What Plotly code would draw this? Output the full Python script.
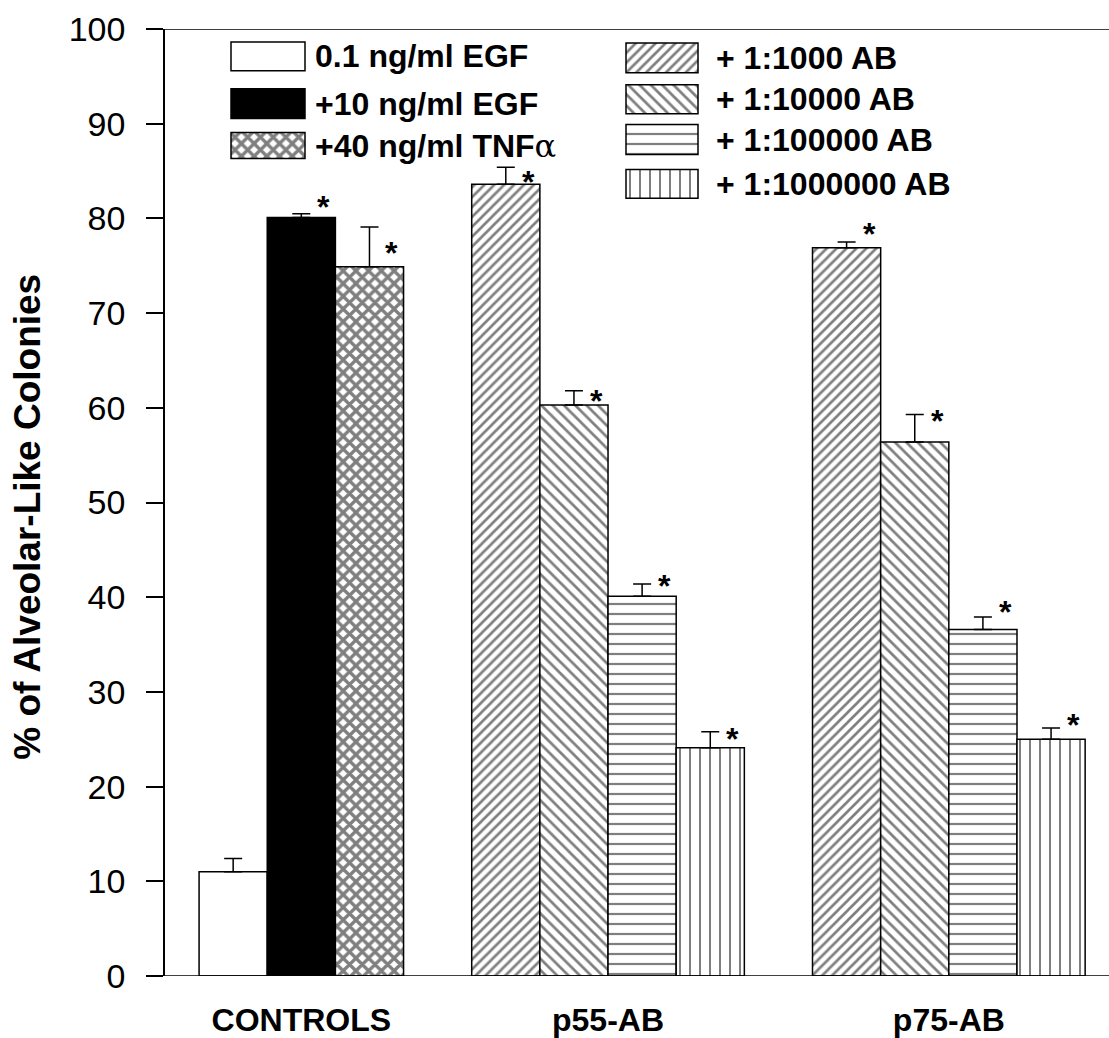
import plotly.graph_objects as go

# ---------------- data ----------------
groups = ["CONTROLS", "p55-AB", "p75-AB"]

control_names = ["0.1 ng/ml EGF", "+10 ng/ml EGF", "+40 ng/ml TNFα"]
control_values = [11.0, 80.1, 74.9]
control_errors = [1.4, 0.4, 4.2]
control_star_y = [None, 82.1, 77.2]

ab_names = ["+ 1:1000 AB", "+ 1:10000 AB", "+ 1:100000 AB", "+ 1:1000000 AB"]
p55_values = [83.6, 60.3, 40.1, 24.1]
p55_errors = [1.8, 1.5, 1.3, 1.7]
p55_star_y = [84.7, 61.6, 42.0, 25.9]
p75_values = [76.9, 56.4, 36.6, 25.0]
p75_errors = [0.6, 2.9, 1.3, 1.2]
p75_star_y = [79.2, 59.4, 39.3, 27.3]

y_ticks = [0, 10, 20, 30, 40, 50, 60, 70, 80, 90, 100]

# ---------------- styles ----------------
FONT = "Liberation Sans, Arial, Helvetica, sans-serif"
control_styles = [
    dict(color="white", pattern=dict(shape="")),
    dict(color="black", pattern=dict(shape="")),
    dict(color="white", pattern=dict(shape="x", fgcolor="black", bgcolor="white", size=9, solidity=0.6)),
]
ab_styles = [
    dict(color="white", pattern=dict(shape="/", fgcolor="black", bgcolor="white", size=7, solidity=0.38)),
    dict(color="white", pattern=dict(shape="\\", fgcolor="black", bgcolor="white", size=8, solidity=0.34)),
    dict(color="white", pattern=dict(shape="-", fgcolor="black", bgcolor="white", size=10, solidity=0.22)),
    dict(color="white", pattern=dict(shape="|", fgcolor="black", bgcolor="white", size=10, solidity=0.2)),
]

# bar slot positions: consecutive bars within a group, one empty slot between groups
group_sizes = [len(control_values), len(p55_values), len(p75_values)]
group_starts = []
s = 0
for n in group_sizes:
    group_starts.append(s)
    s += n + 1
group_centers = [st + (n - 1) / 2 for st, n in zip(group_starts, group_sizes)]

fig = go.Figure()

def add_bar(xpos, vals, errs, style, name):
    fig.add_trace(go.Bar(
        x=xpos, y=vals, width=[1.0] * len(xpos), name=name, showlegend=False,
        marker=dict(color=style["color"], pattern=style["pattern"],
                    line=dict(color="black", width=1.5)),
        error_y=dict(type="data", symmetric=False, array=errs,
                     arrayminus=[0] * len(errs), color="black", thickness=1.5, width=9),
    ))

star_x, star_y = [], []
for j, (nm, v, e, st, sy) in enumerate(zip(control_names, control_values, control_errors,
                                            control_styles, control_star_y)):
    xp = group_starts[0] + j
    add_bar([xp], [v], [e], st, nm)
    if sy is not None:
        star_x.append(xp + 0.33)
        star_y.append(sy)

for j, (nm, st) in enumerate(zip(ab_names, ab_styles)):
    xs = [group_starts[1] + j, group_starts[2] + j]
    add_bar(xs, [p55_values[j], p75_values[j]], [p55_errors[j], p75_errors[j]], st, nm)
    star_x += [xs[0] + 0.33, xs[1] + 0.33]
    star_y += [p55_star_y[j], p75_star_y[j]]

for sx, sy in zip(star_x, star_y):
    fig.add_annotation(x=sx, y=sy, xref="x", yref="y", text="*", showarrow=False,
                       xanchor="center", yanchor="middle", yshift=-8,
                       font=dict(family=FONT, size=32, color="black", weight="bold"))

# ---------------- custom legend (pixel coordinates on overlay axes) ----------------
legend_cols = [
    dict(x0=231, x1=305, tx=313, rows=[(42, 71), (89, 119), (133, 159)],
         names=control_names, styles=control_styles),
    dict(x0=626, x1=698, tx=714, rows=[(43, 73), (85, 114), (125, 155), (170, 199)],
         names=ab_names, styles=ab_styles),
]
for col in legend_cols:
    for (t, b), nm, st in zip(col["rows"], col["names"], col["styles"]):
        fig.add_trace(go.Bar(
            x=[(col["x0"] + col["x1"]) / 2], y=[b - t], base=[t], width=[col["x1"] - col["x0"]],
            xaxis="x2", yaxis="y2", showlegend=False, hoverinfo="skip",
            marker=dict(color=st["color"], pattern=st["pattern"],
                        line=dict(color="black", width=1.5)),
        ))
        label = nm.replace("α", "<span style='font-family:DejaVu Serif;font-weight:normal'>α</span>")
        fig.add_annotation(
            x=col["tx"], y=(t + b) / 2, xref="x2", yref="y2", text=label, showarrow=False,
            xanchor="left", yanchor="middle",
            font=dict(family=FONT, size=32, color="black", weight="bold"),
        )

PLOT_L, PLOT_R, PLOT_T, PLOT_B = 165, 1109, 29, 980
W, H = 1109, 1038

fig.update_layout(
    width=W, height=H,
    margin=dict(l=PLOT_L, r=W - PLOT_R, t=PLOT_T, b=H - PLOT_B),
    paper_bgcolor="white", plot_bgcolor="white",
    barmode="overlay", showlegend=False,
    xaxis=dict(range=[-1, 12.85], tickvals=group_centers, ticktext=groups,
               ticks="", showgrid=False, zeroline=False, showline=False,
               ticklabelstandoff=22,
               tickfont=dict(family=FONT, size=32, color="black", weight="bold")),
    yaxis=dict(range=[0, 100], tickvals=y_ticks, ticks="outside", ticklen=17, tickwidth=1.5,
               tickcolor="black", showline=True, linecolor="black", linewidth=1.5,
               showgrid=False, zeroline=False, ticklabelstandoff=14,
               tickfont=dict(family=FONT, size=34, color="black")),
    xaxis2=dict(overlaying="x", range=[PLOT_L, PLOT_R], visible=False),
    yaxis2=dict(overlaying="y", range=[PLOT_B, PLOT_T], visible=False),
)

ext = -18 / (PLOT_R - PLOT_L)
for yv in (0, 100):
    fig.add_shape(type="line", xref="paper", yref="y", x0=ext, x1=1, y0=yv, y1=yv,
                  line=dict(color="black", width=1.5), layer="above")

fig.add_annotation(
    text="% of Alveolar-Like Colonies", xref="paper", yref="paper",
    x=(28 - PLOT_L) / (PLOT_R - PLOT_L), y=0.485, textangle=-90, showarrow=False,
    xanchor="center", yanchor="middle",
    font=dict(family=FONT, size=37, color="black", weight="bold"),
)

fig.write_html("out.html")
